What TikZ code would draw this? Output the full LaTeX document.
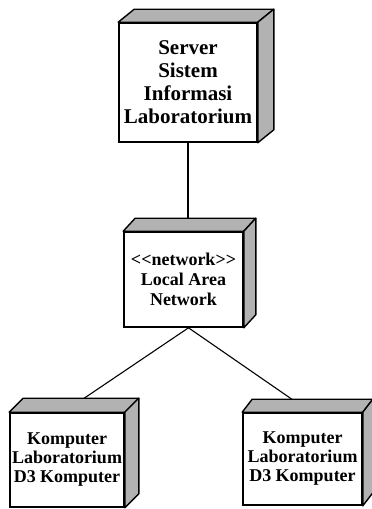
\documentclass[tikz,border=0pt]{standalone}
\usepackage{fontspec}
\setmainfont{Liberation Serif}
\tikzset{
  face/.style={fill=white, draw=black, line width=1.6pt},
  side/.style={fill=black!30, draw=black, line width=1.4pt, line join=round},
  link/.style={draw=black, line width=1.1pt},
  big/.style={font=\fontsize{21}{23}\selectfont\bfseries, align=center},
  mid/.style={font=\fontsize{18}{20}\selectfont\bfseries, align=center},
  small/.style={font=\fontsize{18}{19}\selectfont\bfseries, align=center},
}
\newcommand{\boxthreed}[3]{% node name, dx, dy
  \draw[side] (#1.north west) -- ++(#2,-#3) -- ([shift={(#2,-#3)}]#1.north east) -- (#1.north east) -- cycle;
  \draw[side] (#1.north east) -- ++(#2,-#3) -- ([shift={(#2,-#3)}]#1.south east) -- (#1.south east) -- cycle;
}
\begin{document}
\begin{tikzpicture}[x=1pt,y=-1pt]
\useasboundingbox (0,0) rectangle (372,509);
% front faces (nodes)
\node[face, big, minimum width=138pt, minimum height=119pt, inner sep=0pt] (server) at (188,82.5)
  {Server\\Sistem\\Informasi\\Laboratorium};
\node[face, mid, minimum width=119pt, minimum height=95pt, inner sep=0pt] (net) at (183.5,279.5)
  {{<}{<}network{>}{>}\\Local Area\\Network};
\node[face, small, minimum width=114pt, minimum height=94pt, inner sep=0pt] (pc1) at (67,460)
  {Komputer\\Laboratorium\\D3 Komputer};
\node[face, small, minimum width=119pt, minimum height=92pt, inner sep=0pt] (pc2) at (302.5,459)
  {Komputer\\Laboratorium\\D3 Komputer};
% connector end points on the top faces
\coordinate (in1) at (83,399);
\coordinate (in2) at (293,400);
% connectors
\draw[link] (server.south) -- (server.south |- 0,219);
\draw[link] ([xshift=5pt]net.south) -- (in1);
\draw[link] ([xshift=5pt]net.south) -- (in2);
% 3D sides
\boxthreed{server}{16}{13}
\boxthreed{net}{12}{13}
\boxthreed{pc1}{14}{14}
\boxthreed{pc2}{10}{13}
\end{tikzpicture}
\end{document}
